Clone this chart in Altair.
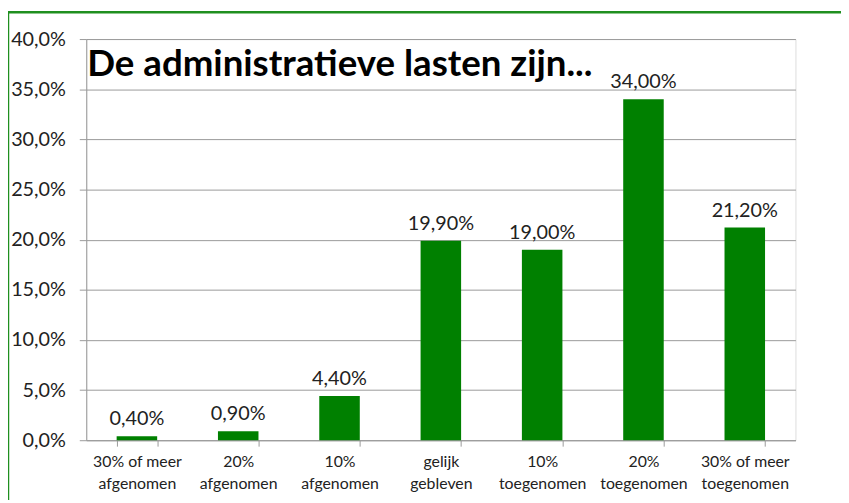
import altair as alt
import pandas as pd

categories = [
    "30% of meer|afgenomen",
    "20%|afgenomen",
    "10%|afgenomen",
    "gelijk|gebleven",
    "10%|toegenomen",
    "20%|toegenomen",
    "30% of meer|toegenomen",
]
values = [0.4, 0.9, 4.4, 19.9, 19.0, 34.0, 21.2]
y_ticks = [0, 5, 10, 15, 20, 25, 30, 35, 40]
title_text = "De administratieve lasten zijn..."

df = pd.DataFrame({"cat": categories, "val": values})

FONT = "Lato"
GRID = "#9a9a9a"
GREEN = "#008000"
BORDER = "#1f8f1f"

x_enc = alt.X(
    "cat:N",
    sort=categories,
    scale=alt.Scale(paddingInner=0.6, paddingOuter=0.3),
    axis=alt.Axis(
        title=None,
        labelExpr="split(datum.label, '|')",
        labelAngle=0,
        labelFont=FONT,
        labelFontSize=16,
        labelColor="#222222",
        labelLineHeight=22,
        labelPadding=8,
        tickBand="extent",
        tickSize=6,
        tickColor=GRID,
        domainColor=GRID,
        grid=False,
    ),
)
y_enc = alt.Y(
    "val:Q",
    scale=alt.Scale(domain=[0, 40], nice=False),
    axis=alt.Axis(
        title=None,
        values=y_ticks,
        labelExpr="replace(format(datum.value, '.1f'), '.', ',') + '%'",
        labelFont=FONT,
        labelFontSize=20,
        labelColor="#222222",
        labelPadding=14,
        tickSize=7,
        tickColor=GRID,
        domainColor=GRID,
        gridColor=GRID,
        grid=True,
    ),
)

base = alt.Chart(df)
bars = base.mark_bar(color=GREEN).encode(x=x_enc, y=y_enc)
labels = base.mark_text(
    font=FONT, fontSize=20, color="#222222", baseline="alphabetic", dy=-11
).encode(
    x=alt.X("cat:N", sort=categories),
    y="val:Q",
    text=alt.Text("lbl:N"),
).transform_calculate(
    lbl="replace(format(datum.val, '.2f'), '.', ',') + '%'"
)

one = pd.DataFrame({"a": [0]})
title = alt.Chart(one).mark_text(
    text=title_text, font=FONT, fontSize=37, fontWeight="bold",
    color="black", align="left", baseline="alphabetic",
).encode(x=alt.value(1), y=alt.value(37))

border_top = alt.Chart(one).mark_rule(color=BORDER, strokeWidth=2.5).encode(
    x=alt.value(-79), x2=alt.value(770), y=alt.value(-27)
)
border_left = alt.Chart(one).mark_rule(color=BORDER, strokeWidth=2.5).encode(
    x=alt.value(-79), y=alt.value(-27), y2=alt.value(480)
)

chart = alt.layer(bars, labels, title, border_top, border_left).properties(
    width=716,
    height=405,
    padding={"left": 79, "top": 29, "right": 46, "bottom": 58},
    autosize=alt.AutoSizeParams(type="none"),
).configure_view(stroke=None).configure(background="white")

chart.save("out.html", embed_options={"renderer": "svg", "actions": False})
